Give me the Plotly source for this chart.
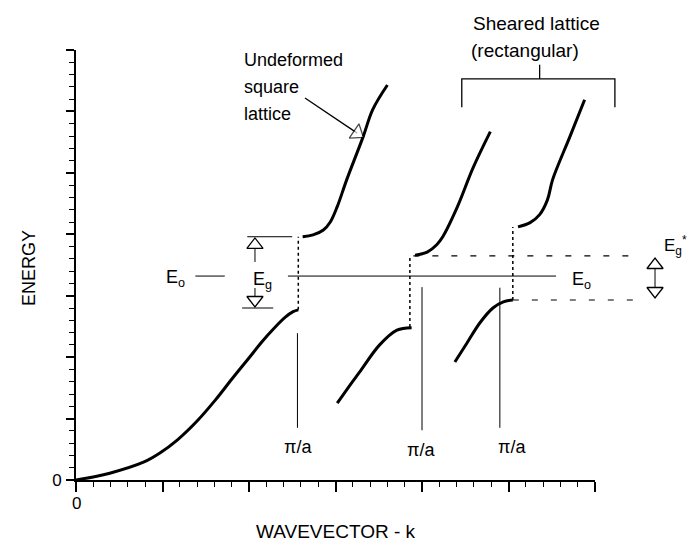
import plotly.graph_objects as go

# ---------------- data (axis units: wavevector k, energy E) ----------------
# undeformed square lattice, lower / upper band
k_low0 = [0.0, 0.2, 0.39, 0.78, 0.97, 1.17, 1.40, 1.61, 1.80, 1.99, 2.15, 2.29, 2.42, 2.51, 2.57]
E_low0 = [0.0, 0.05, 0.11, 0.29, 0.44, 0.65, 0.96, 1.30, 1.64, 1.97, 2.25, 2.47, 2.65, 2.74, 2.77]
k_up0 = [2.62, 2.74, 2.86, 2.94, 3.02, 3.13, 3.32, 3.43, 3.60]
E_up0 = [3.96, 3.99, 4.07, 4.20, 4.45, 4.89, 5.59, 6.03, 6.43]
# sheared lattice, first direction
k_low1 = [3.02, 3.17, 3.28, 3.51, 3.71, 3.88]
E_low1 = [1.25, 1.55, 1.76, 2.20, 2.44, 2.48]
k_up1 = [3.92, 4.06, 4.17, 4.24, 4.41, 4.59, 4.79]
E_up1 = [3.66, 3.71, 3.83, 3.96, 4.45, 5.08, 5.67]
# sheared lattice, second direction
k_low2 = [4.38, 4.52, 4.67, 4.82, 4.94, 5.05]
E_low2 = [1.92, 2.23, 2.56, 2.80, 2.90, 2.93]
k_up2 = [5.11, 5.25, 5.36, 5.45, 5.51, 5.71, 5.88]
E_up2 = [4.12, 4.19, 4.32, 4.56, 4.89, 5.59, 6.19]

# dotted gap lines at zone boundary
gap_k = [2.57, 3.86, 5.05]
gap_lo = [2.77, 2.49, 2.93]
gap_hi = [3.96, 3.63, 4.12]

# pi/a markers (thin verticals) and their labels
pi_k = [2.56, 4.0, 4.90]
pi_top = [2.39, 3.14, 3.13]
pi_bot = [0.85, 0.81, 0.85]
pi_lab_k = [2.57, 3.99, 5.04]
pi_lab_E = [0.54, 0.49, 0.54]

E0 = 3.32                       # mid-gap energy level
E0_dash_k = [1.38, 1.72]
E0_line_k = [2.45, 5.55]

# E_g (undeformed) arrow
Eg_k = 2.069
Eg_top, Eg_bot = 3.96, 2.80
Eg_top_k = [1.98, 2.50]
Eg_bot_k = [1.92, 2.28]
Eg_tri_E = [3.826, 2.930]
Eg_stem_E = [3.826, 3.549, None, 3.126, 2.930]

# E_g* (sheared) arrow and dashed levels
Egs_k = 6.694
Egs_tri_E = [3.50, 3.077]
dash_hi_k, dash_hi_E = [3.90, 6.50], 3.65
dash_lo_k, dash_lo_E = [5.05, 6.50], 2.93

# pointer for "Undeformed square lattice"
ptr_k = [2.647, 3.251]
ptr_E = [6.219, 5.647]

# bracket for "Sheared lattice"
br_k = [4.46, 4.46, 6.23, 6.23]
br_E = [6.07, 6.53, 6.53, 6.07]
br_stub_k = [5.36, 5.36]
br_stub_E = [6.53, 6.76]

FONT = "Liberation Sans, Arial, Helvetica, sans-serif"
BLK = "black"

# ---------------- layout geometry ----------------
# The page body has an 8px margin, so the figure is shrunk/shifted by that amount
OFF = 8
W, H = 697 - OFF, 542 - OFF
ML, MR, MT, MB = 76 - OFF, 2, 50 - OFF, 62
plot_w = W - ML - MR
plot_h = H - MT - MB
x_end_px = 519                  # x axis length in px
xdom = x_end_px / plot_w
x2_max = 6 * plot_w / x_end_px

fig = go.Figure()

def line(k, E, width=1.0, dash=None, shape="linear", xaxis="x2", **kw):
    fig.add_trace(go.Scatter(x=k, y=E, xaxis=xaxis, yaxis="y", mode="lines",
                             cliponaxis=False,
                             line=dict(color=BLK, width=width, dash=dash, shape=shape, **kw),
                             hoverinfo="skip", showlegend=False))

# band curves live on the visible x axis
for k, E in [(k_low0, E_low0), (k_up0, E_up0), (k_low1, E_low1),
             (k_up1, E_up1), (k_low2, E_low2), (k_up2, E_up2)]:
    line(k, E, width=3, shape="spline", smoothing=1.0, xaxis="x")

# annotation marks live on x2 (same scale, wider area so nothing is clipped)
for k, lo, hi in zip(gap_k, gap_lo, gap_hi):
    line([k, k], [lo, hi], width=1.5, dash="dot")
for k, t, b in zip(pi_k, pi_top, pi_bot):
    line([k, k], [b, t], width=1)
for kk in (E0_dash_k, E0_line_k):
    line(kk, [E0, E0], width=1)
line(Eg_top_k, [Eg_top, Eg_top], width=1)
line(Eg_bot_k, [Eg_bot, Eg_bot], width=1)
line([Eg_k] * 5, Eg_stem_E, width=1)
line(dash_hi_k, [dash_hi_E] * 2, width=1.2, dash="6px,13px")
line(dash_lo_k, [dash_lo_E] * 2, width=1.2, dash="6px,13px")
line([Egs_k, Egs_k], Egs_tri_E, width=1)
line(br_k, br_E, width=1.3)
line(br_stub_k, br_stub_E, width=1.3)

tri = dict(size=14, color="white", line=dict(color=BLK, width=1.3))
fig.add_trace(go.Scatter(x=[Eg_k, Eg_k], y=Eg_tri_E, xaxis="x2", mode="markers",
                         cliponaxis=False,
                         marker=dict(symbol=["triangle-up", "triangle-down"], **tri),
                         hoverinfo="skip", showlegend=False))
fig.add_trace(go.Scatter(x=[Egs_k, Egs_k], y=Egs_tri_E, xaxis="x2", mode="markers",
                         cliponaxis=False,
                         marker=dict(symbol=["triangle-up", "triangle-down"], **tri),
                         hoverinfo="skip", showlegend=False))
fig.add_trace(go.Scatter(x=ptr_k, y=ptr_E, xaxis="x2", mode="lines+markers",
                         cliponaxis=False, line=dict(color=BLK, width=1.3),
                         marker=dict(symbol=["circle", "triangle-up"], size=[0, 15],
                                     angleref="previous", color="white",
                                     line=dict(color=BLK, width=1.3)),
                         hoverinfo="skip", showlegend=False))

def txt(x, y, s, size=18, xref="x2", yref="y", xanchor="center", yanchor="middle", angle=0):
    fig.add_annotation(x=x, y=y, xref=xref, yref=yref, text=s, showarrow=False,
                       xanchor=xanchor, yanchor=yanchor, textangle=angle,
                       font=dict(family=FONT, size=size, color=BLK))

def px_x(px):   # screen pixel -> paper x
    return (px - 76) / plot_w

def px_y(py):   # screen pixel -> paper y
    return (480 - py) / plot_h

for k, E in zip(pi_lab_k, pi_lab_E):
    txt(k, E, "π/a", 18)

txt(1.145, 3.28, "E<sub>o</sub>", 18)
txt(2.02, 3.25, "E<sub>g</sub>", 18, xanchor="left")
txt(5.71, 3.24, "E<sub>o</sub>", 18, xanchor="left")
txt(6.78, 3.82, "E<sub>g</sub><sup>*</sup>", 17, xanchor="left")

txt(1.919, 6.84, "Undeformed", 18, xanchor="left")
txt(1.919, 6.40, "square", 18, xanchor="left")
txt(1.919, 5.96, "lattice", 18, xanchor="left")
txt(5.324, px_y(23), "Sheared lattice", 19, yref="paper")
txt(5.19, 7.00, "(rectangular)", 19)

txt(px_x(29), 3.45, "ENERGY", 18, xref="paper", angle=-90)
txt(3.006, px_y(531), "WAVEVECTOR - k", 19, yref="paper")
txt(0, px_y(503), "0", 17, yref="paper")

axis_common = dict(showgrid=False, zeroline=False, showline=True, linecolor=BLK,
                   linewidth=2, ticks="outside", tickcolor=BLK, tickwidth=1.5,
                   automargin=False,
                   tickfont=dict(family=FONT, size=17, color=BLK))

fig.update_layout(
    width=W, height=H, autosize=False,
    margin=dict(l=ML, r=MR, t=MT, b=MB, autoexpand=False),
    paper_bgcolor="white", plot_bgcolor="rgba(0,0,0,0)",
    showlegend=False,
    xaxis=dict(domain=[0, xdom], range=[0, 6], anchor="y", tickmode="array",
               tickvals=list(range(7)), ticktext=[""] * 7, ticklen=10,
               minor=dict(dtick=0.2, tick0=0, ticklen=5, ticks="outside",
                          tickcolor=BLK, tickwidth=1.2),
               fixedrange=True, **axis_common),
    xaxis2=dict(domain=[0, 1], range=[0, x2_max], anchor="y", visible=False,
                fixedrange=True, automargin=False),
    yaxis=dict(domain=[0, 1], range=[0, 7], anchor="x", tickmode="array",
               tickvals=list(range(8)), ticktext=["0"] + [""] * 7, ticklen=8,
               ticklabelstandoff=1,
               minor=dict(dtick=0.2, tick0=0, ticklen=5, ticks="outside",
                          tickcolor=BLK, tickwidth=1.2),
               fixedrange=True, **axis_common),
)

fig.write_html("out.html")
